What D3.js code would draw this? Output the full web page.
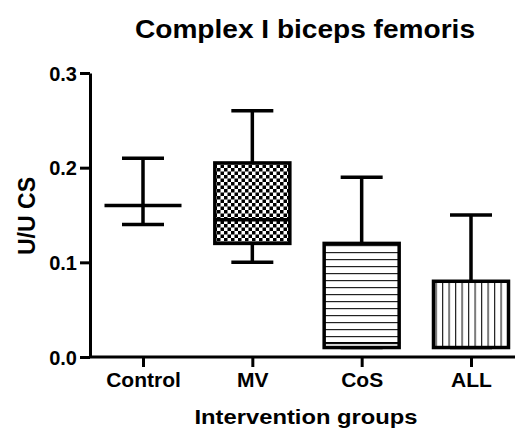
<!DOCTYPE html>
<html>
<head>
<style>
  html, body { margin: 0; background: #fff; }
  svg { display: block; }
  text { font-family: "Liberation Sans", Arial, Helvetica, sans-serif; font-weight: bold; fill: #000; }
</style>
</head>
<body>
<svg width="515" height="429"></svg>
<script src="https://cdnjs.cloudflare.com/ajax/libs/d3/7.8.5/d3.min.js"></script>
<script>
// box plot values
const groups   = ["Control", "MV", "CoS", "ALL"];
const mins     = [0.14, 0.10, 0.01, 0.01];
const q1s      = [0.16, 0.12, 0.01, 0.01];
const medians  = [0.16, 0.145, 0.015, 0.01];
const q3s      = [0.16, 0.205, 0.12, 0.08];
const maxs     = [0.21, 0.26, 0.19, 0.15];
const fills    = ["none", "url(#checker)", "url(#hlines)", "url(#vlines)"];
const yTicks   = [0, 0.1, 0.2, 0.3];

const width = 515, height = 429;
const margin = {top: 73, left: 90, right: 0, bottom: 67};

const svg = d3.select("svg");

// patterns
const defs = svg.append("defs");
const chk = defs.append("pattern").attr("id", "checker")
  .attr("patternUnits", "userSpaceOnUse").attr("width", 7).attr("height", 7);
chk.append("rect").attr("width", 7).attr("height", 7).attr("fill", "#fff");
chk.append("rect").attr("width", 3.5).attr("height", 3.5).attr("fill", "#000");
chk.append("rect").attr("x", 3.5).attr("y", 3.5).attr("width", 3.5).attr("height", 3.5).attr("fill", "#000");

const hl = defs.append("pattern").attr("id", "hlines")
  .attr("patternUnits", "userSpaceOnUse").attr("width", 8).attr("height", 7);
hl.append("rect").attr("width", 8).attr("height", 7).attr("fill", "#fff");
hl.append("rect").attr("y", 0).attr("width", 8).attr("height", 1.2).attr("fill", "#222");

const vl = defs.append("pattern").attr("id", "vlines")
  .attr("patternUnits", "userSpaceOnUse").attr("width", 6.5).attr("height", 8);
vl.append("rect").attr("width", 6.5).attr("height", 8).attr("fill", "#fff");
vl.append("rect").attr("x", 0).attr("width", 1.2).attr("height", 8).attr("fill", "#222");

const x = d3.scalePoint().domain(groups).range([143, 471]);
const y = d3.scaleLinear().domain([0, 0.3]).range([height - margin.bottom - 5, margin.top]);

const boxW = 75, capW = 42;

const data = groups.map((g, i) => ({
  g, min: mins[i], q1: q1s[i], med: medians[i], q3: q3s[i], max: maxs[i], fill: fills[i]
}));

const box = svg.selectAll("g.box").data(data).enter().append("g").attr("class", "box");

// whiskers
box.append("line")
  .attr("x1", d => x(d.g)).attr("x2", d => x(d.g))
  .attr("y1", d => y(d.max)).attr("y2", d => y(d.q3))
  .attr("stroke", "#000").attr("stroke-width", 3.5);
box.append("line")
  .attr("x1", d => x(d.g)).attr("x2", d => x(d.g))
  .attr("y1", d => y(d.q1)).attr("y2", d => y(d.min))
  .attr("stroke", "#000").attr("stroke-width", 3.5);
// caps
box.selectAll("line.cap").data(d => [d.min, d.max].map(v => ({g: d.g, v})))
  .enter().append("line").attr("class", "cap")
  .attr("x1", d => x(d.g) - capW / 2).attr("x2", d => x(d.g) + capW / 2)
  .attr("y1", d => y(d.v)).attr("y2", d => y(d.v))
  .attr("stroke", "#000").attr("stroke-width", 3.5);
// boxes
box.filter(d => d.q3 > d.q1).append("rect")
  .attr("x", d => x(d.g) - boxW / 2)
  .attr("y", d => y(d.q3))
  .attr("width", boxW)
  .attr("height", d => y(d.q1) - y(d.q3))
  .attr("fill", d => d.fill)
  .attr("stroke", "#000").attr("stroke-width", 3.5);
// medians
box.append("line")
  .attr("x1", d => x(d.g) - (boxW + 2) / 2).attr("x2", d => x(d.g) + (boxW + 2) / 2)
  .attr("y1", d => y(d.med)).attr("y2", d => y(d.med))
  .attr("stroke", "#000").attr("stroke-width", d => d.q3 > d.q1 && d.med - d.q1 < 0.01 ? 1.5 : 3.5);

// axes
const yAxis = svg.append("g")
  .attr("transform", "translate(" + [margin.left, 0] + ")")
  .call(d3.axisLeft(y).tickValues(yTicks).tickFormat(d3.format(".1f")).tickSize(10).tickPadding(3).tickSizeOuter(0));
yAxis.selectAll("line, path").attr("stroke", "#000").attr("stroke-width", 3);
yAxis.selectAll("text").style("font-size", "20px").attr("dy", "0.36em");

const xAxis = svg.append("g")
  .attr("transform", "translate(" + [0, y(0)] + ")")
  .call(d3.axisBottom(x).tickSize(10).tickPadding(5).tickSizeOuter(0));
xAxis.select("path.domain").attr("d", "M" + margin.left + ",0H" + (width - margin.right));
xAxis.selectAll("line, path").attr("stroke", "#000").attr("stroke-width", 3);
xAxis.selectAll("text").style("font-size", "21px");

// titles
svg.append("text").attr("x", 305).attr("y", 38).attr("text-anchor", "middle")
  .attr("textLength", 340).attr("lengthAdjust", "spacingAndGlyphs")
  .style("font-size", "25px").text("Complex I biceps femoris");
svg.append("text").attr("x", 306).attr("y", 424).attr("text-anchor", "middle")
  .attr("textLength", 223).attr("lengthAdjust", "spacingAndGlyphs")
  .style("font-size", "21px").text("Intervention groups");
svg.append("text").attr("transform", "translate(35,216) rotate(-90)").attr("text-anchor", "middle")
  .attr("textLength", 78).attr("lengthAdjust", "spacingAndGlyphs")
  .style("font-size", "23px").text("U/U CS");
</script>
</body>
</html>
